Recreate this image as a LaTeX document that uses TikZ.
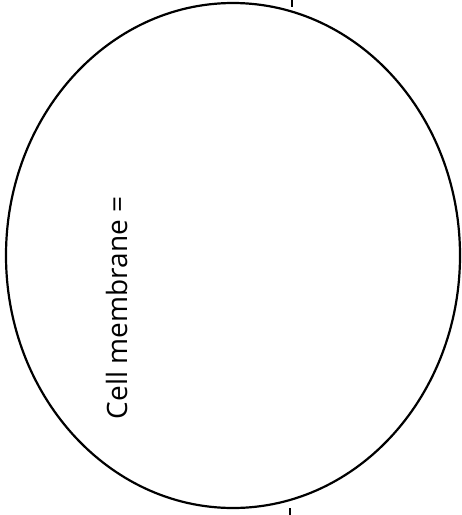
\documentclass[tikz,border=0pt]{standalone}
\usepackage{fontspec}
\usetikzlibrary{shapes.geometric}
\setmainfont{Open Sans}
\begin{document}
\begin{tikzpicture}[x=1pt,y=-1pt,
  membrane/.style={draw=black,line width=2.2pt},
  tickmark/.style={draw=black,line width=1.2pt},
  label/.style={font=\fontsize{28}{30}\selectfont,rotate=90,anchor=base,inner sep=0pt}]
\useasboundingbox (0,0) rectangle (462,515);
\node[membrane,ellipse,minimum width=454pt,minimum height=505pt,inner sep=0pt] (cell) at (233,255.5) {};
\node[label] (lbl) at (127,308) {Cell membrane =};
\coordinate (t1) at (292,0);
\coordinate (t2) at (292,7);
\coordinate (b1) at (290,508);
\coordinate (b2) at (290,515);
\draw[tickmark] (t1) -- (t2);
\draw[tickmark] (b1) -- (b2);
\end{tikzpicture}
\end{document}
